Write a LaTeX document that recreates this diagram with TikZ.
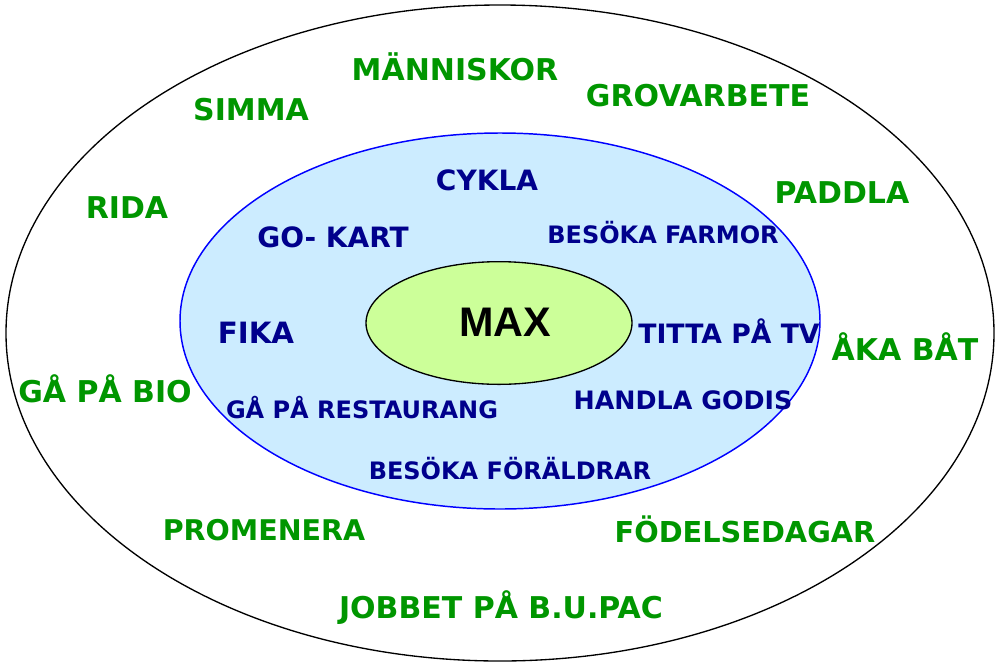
\documentclass[tikz,border=0pt]{standalone}
\usepackage{fontspec}
\setmainfont{DejaVu Sans}
\newfontfamily\maxfont{Liberation Sans Bold}
\usetikzlibrary{shapes.geometric}

\definecolor{activitygreen}{RGB}{0,150,0}
\definecolor{activityblue}{RGB}{0,0,140}
\definecolor{innerfill}{RGB}{204,236,255}
\definecolor{centerfill}{RGB}{204,255,153}

\begin{document}
\begin{tikzpicture}[x=0.75pt, y=-0.75pt,
    outer/.style={text=activitygreen, font=\fontsize{22.5}{26}\bfseries},
    inner/.style={text=activityblue, font=\fontsize{21}{24}\bfseries},
    innersmall/.style={text=activityblue, font=\fontsize{18}{21}\bfseries}]
    \useasboundingbox (0,0) rectangle (997,662);
    % rings
    \draw[line width=1pt] (500,333) ellipse [x radius=370.5pt, y radius=246pt];
    \draw[blue, fill=innerfill, line width=1.1pt] (500,321) ellipse [x radius=240pt, y radius=141pt];
    \node[draw, ellipse, fill=centerfill, line width=1pt,
          minimum width=199.5pt, minimum height=92pt] (max) at (499,323) {};
    \node[font=\maxfont\fontsize{31}{34}\selectfont] (maxlabel) at (505,322) {MAX};
    % outer ring
    \node[outer] (manniskor) at (455,67) {MÄNNISKOR};
    \node[outer] (simma) at (251,110) {SIMMA};
    \node[outer] (grovarbete) at (698,96) {GROVARBETE};
    \node[outer] (rida) at (127,208) {RIDA};
    \node[outer] (paddla) at (842,193) {PADDLA};
    \node[outer] (akabat) at (905,347) {ÅKA BÅT};
    \node[outer] (bio) at (105,389) {GÅ PÅ BIO};
    \node[outer, font=\fontsize{21.4}{26}\bfseries] (promenera) at (264,530) {PROMENERA};
    \node[outer, font=\fontsize{21.6}{26}\bfseries] (fodelsedagar) at (745,529) {FÖDELSEDAGAR};
    \node[outer] (jobbet) at (501,608) {JOBBET PÅ B.U.PAC};
    % inner ring
    \node[inner] (cykla) at (487,180) {CYKLA};
    \node[inner] (gokart) at (333,237) {GO- KART};
    \node[inner, font=\fontsize{22}{24}\bfseries] (fika) at (256,333) {FIKA};
    \node[innersmall] (farmor) at (663,233) {BESÖKA FARMOR};
    \node[innersmall, font=\fontsize{20}{21}\bfseries] (tv) at (729,331) {TITTA PÅ TV};
    \node[innersmall, font=\fontsize{19}{21}\bfseries] (godis) at (683,400) {HANDLA GODIS};
    \node[innersmall] (restaurang) at (362,408) {GÅ PÅ RESTAURANG};
    \node[innersmall] (foraldrar) at (510,469) {BESÖKA FÖRÄLDRAR};
\end{tikzpicture}
\end{document}
